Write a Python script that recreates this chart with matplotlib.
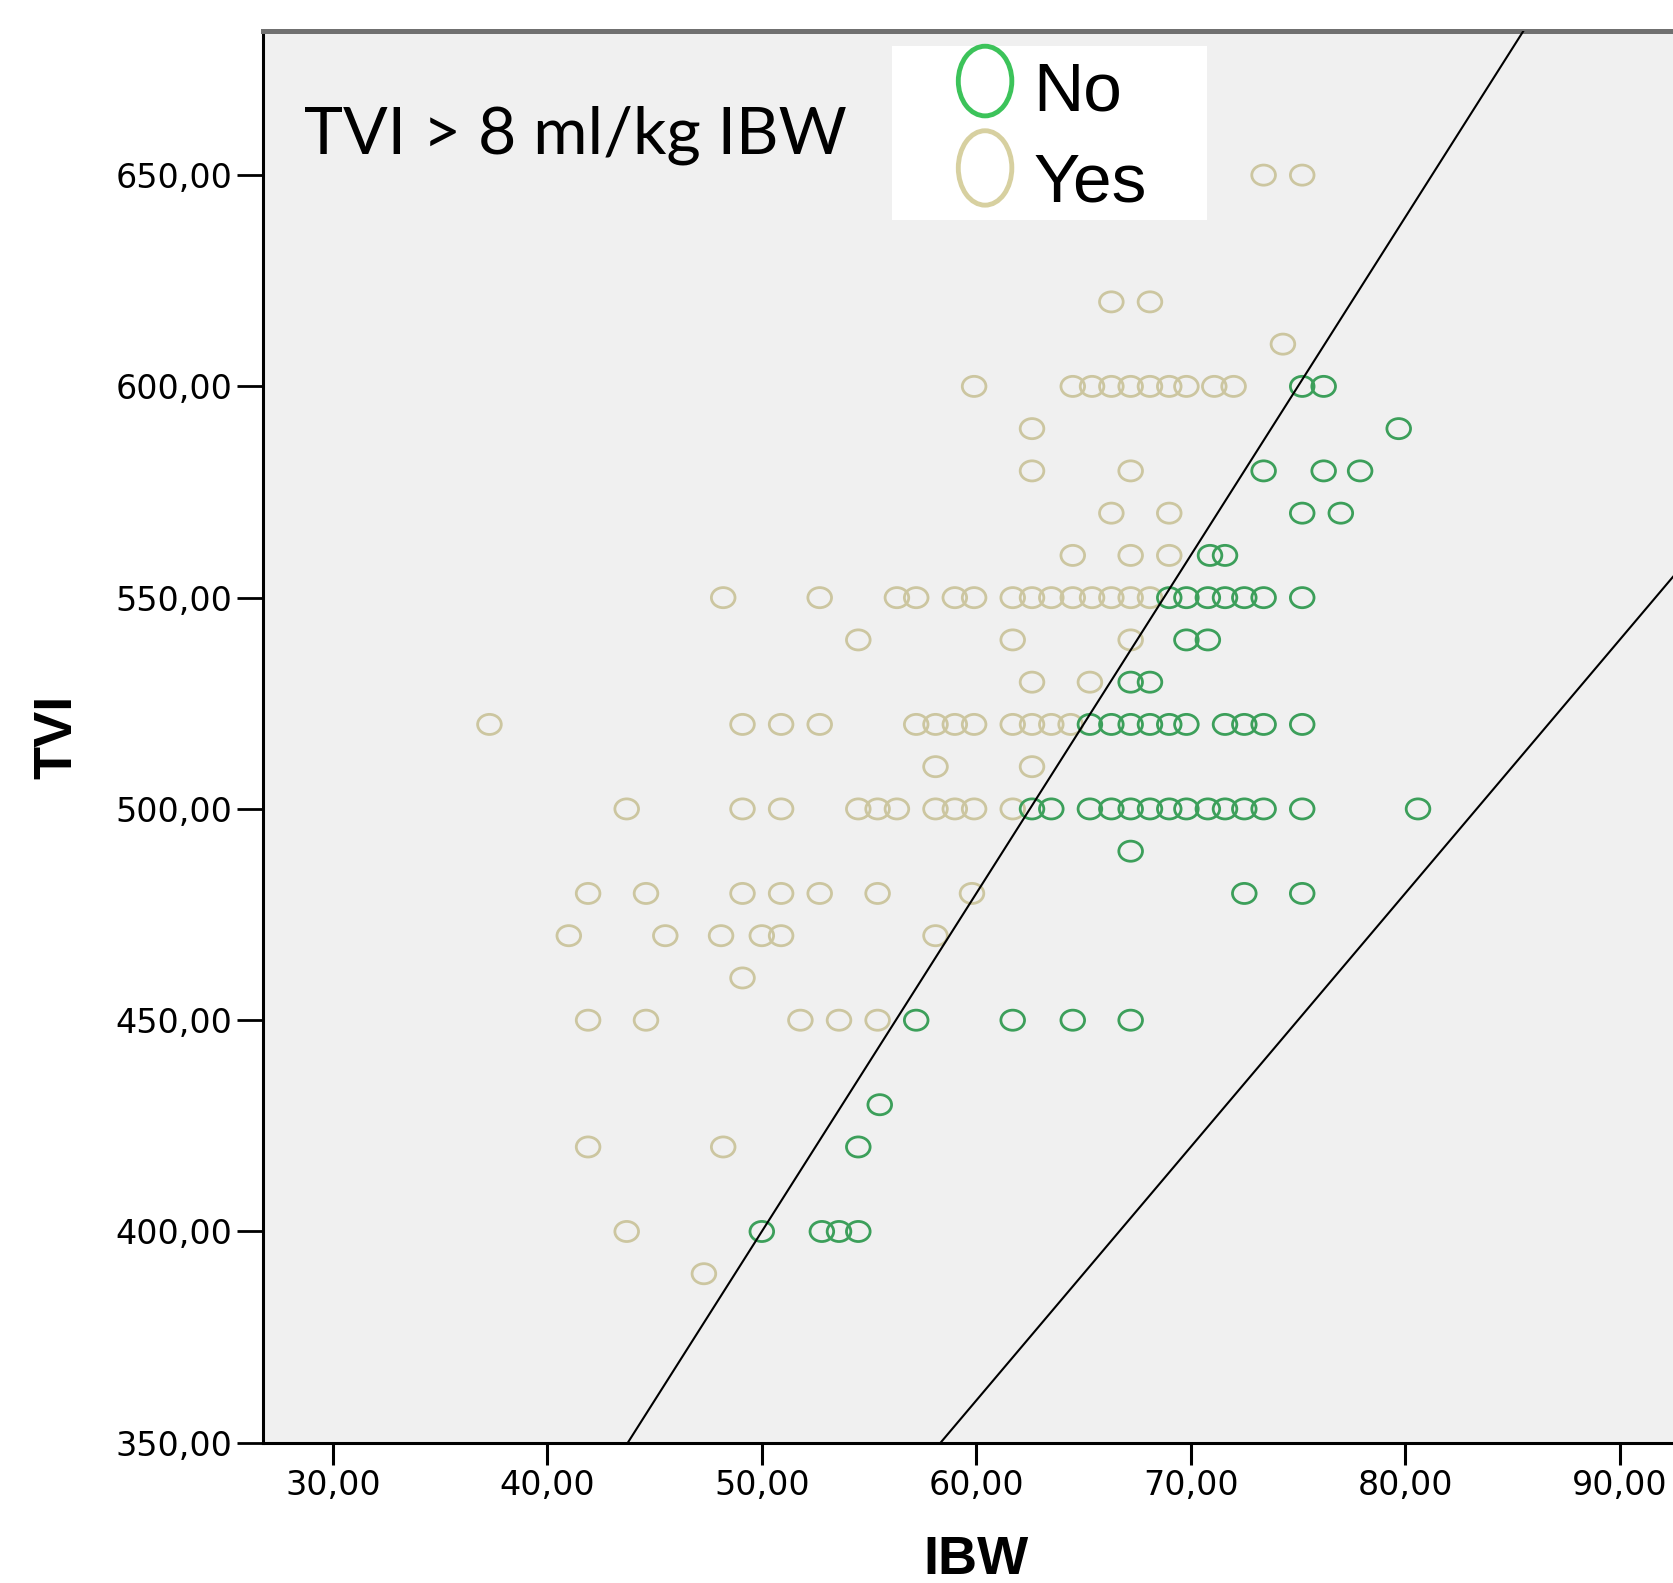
import numpy as np
import matplotlib
matplotlib.use('Agg')
import matplotlib.pyplot as plt
from matplotlib.path import Path
from matplotlib.patches import Ellipse, Rectangle
from matplotlib.ticker import FuncFormatter
from matplotlib import font_manager

# TVI levels and IBW values of the points on each level
yes_levels = [650, 620, 610, 600, 590, 580, 570, 560, 550, 540, 530, 520, 510, 500, 480, 470, 460, 450, 420, 400, 390]
yes_ibw = [
    [73.4, 75.2],
    [66.3, 68.1],
    [74.3],
    [59.9, 64.5, 65.4, 66.3, 67.2, 68.1, 69.0, 69.8, 71.1, 72.0],
    [62.6],
    [62.6, 67.2],
    [66.3, 69.0],
    [64.5, 67.2, 69.0],
    [48.2, 52.7, 56.3, 57.2, 59.0, 59.9, 61.7, 62.6, 63.5, 64.5, 65.4, 66.3, 67.2, 68.1],
    [54.5, 61.7, 67.2],
    [62.6, 65.3],
    [37.3, 49.1, 50.9, 52.7, 57.2, 58.1, 59.0, 59.9, 61.7, 62.6, 63.5, 64.4],
    [58.1, 62.6],
    [43.7, 49.1, 50.9, 54.5, 55.4, 56.3, 58.1, 59.0, 59.9, 61.7],
    [41.9, 44.6, 49.1, 50.9, 52.7, 55.4, 59.8],
    [41.0, 45.5, 48.1, 50.0, 50.9, 58.1],
    [49.1],
    [41.9, 44.6, 51.8, 53.6, 55.4],
    [41.9, 48.2],
    [43.7],
    [47.3],
]

no_levels = [600, 590, 580, 570, 560, 550, 540, 530, 520, 500, 490, 480, 450, 430, 420, 400]
no_ibw = [
    [75.2, 76.2],
    [79.7],
    [73.4, 76.2, 77.9],
    [75.2, 77.0],
    [70.9, 71.6],
    [69.0, 69.8, 70.8, 71.6, 72.5, 73.4, 75.2],
    [69.8, 70.8],
    [67.2, 68.1],
    [65.3, 66.3, 67.2, 68.1, 69.0, 69.8, 71.6, 72.5, 73.4, 75.2],
    [62.6, 63.5, 65.3, 66.3, 67.2, 68.1, 69.0, 69.8, 70.8, 71.6, 72.5, 73.4, 75.2, 80.6],
    [67.2],
    [72.5, 75.2],
    [57.2, 61.7, 64.5, 67.2],
    [55.5],
    [54.5],
    [50.0, 52.8, 53.6, 54.5],
]

# reference lines TVI = k * IBW (ml/kg)
line_slopes = [8, 6]

x_ticks = [30, 40, 50, 60, 70, 80, 90]
y_ticks = [350, 400, 450, 500, 550, 600, 650]

no_color = '#3c9f5a'
yes_color = '#ccc6a0'

names = {f.name for f in font_manager.fontManager.ttflist}
narrow = 'Liberation Sans Narrow' if 'Liberation Sans Narrow' in names else 'Liberation Sans'


def flat(levels, rows):
    xs, ys = [], []
    for lev, row in zip(levels, rows):
        for v in row:
            xs.append(v)
            ys.append(lev)
    return np.array(xs), np.array(ys)


yx, yy = flat(yes_levels, yes_ibw)
nx, ny = flat(no_levels, no_ibw)

circ = Path.unit_circle()
ell = Path(circ.vertices * np.array([1.0, 0.85]), circ.codes)

fig = plt.figure(figsize=(16.73, 15.83), dpi=100)
ax = fig.add_axes([0.1572, 0.0886, 0.8428, 0.8918])
ax.set_facecolor('#f0f0f0')

ax.scatter(yx, yy, s=290, marker=ell, facecolors='none', edgecolors=yes_color, linewidths=2.0, zorder=3)
ax.scatter(nx, ny, s=290, marker=ell, facecolors='none', edgecolors=no_color, linewidths=2.0, zorder=4)

xlim = (26.74, 92.49)
ylim = (350, 684.1)
xs = np.array(xlim)
for k in line_slopes:
    ax.plot(xs, k * xs, color='black', lw=1.5, zorder=5)

ax.set_xlim(xlim)
ax.set_ylim(ylim)
ax.set_xticks(x_ticks)
ax.set_yticks(y_ticks)
fmt = FuncFormatter(lambda v, p: ('%.2f' % v).replace('.', ','))
ax.xaxis.set_major_formatter(fmt)
ax.yaxis.set_major_formatter(fmt)
ax.tick_params(axis='y', length=19, width=2, pad=3, labelsize=24, direction='out')
ax.tick_params(axis='x', length=16, width=2.2, pad=3, labelsize=24, direction='out')

ax.spines['right'].set_visible(False)
ax.spines['top'].set_color('#707070')
ax.spines['top'].set_linewidth(3.6)
ax.spines['left'].set_linewidth(2.2)
ax.spines['bottom'].set_linewidth(2.2)

ax.set_xlabel('IBW', fontsize=39, fontweight='bold', family=narrow)
ax.xaxis.set_label_coords(0.506, -0.0655)
ax.set_ylabel('TVI', fontsize=39, fontweight='bold', family=narrow)
ax.yaxis.set_label_coords(-0.128, 0.5)

fig.text(0.182, 0.9033, 'TVI > 8 ml/kg IBW', fontsize=47.5, family='Lato',
         va='baseline', ha='left')

# legend box
fig.add_artist(Rectangle((0.5332, 0.8610), 0.1883, 0.1099, transform=fig.transFigure,
                         facecolor='white', edgecolor='none', zorder=6))
fig.add_artist(Ellipse((0.5888, 0.9488), 0.0320, 0.0440, transform=fig.transFigure,
                       facecolor='none', edgecolor='#3cc35a', lw=3.5, zorder=7))
fig.add_artist(Ellipse((0.5888, 0.8939), 0.0320, 0.0470, transform=fig.transFigure,
                       facecolor='none', edgecolor='#d7d0a0', lw=3.5, zorder=7))
fig.text(0.6175, 0.9305, 'No', fontsize=50, family=narrow, va='baseline', ha='left', zorder=8)
fig.text(0.6175, 0.8730, 'Yes', fontsize=50, family=narrow, va='baseline', ha='left', zorder=8)

fig.savefig('out.png', dpi=100, facecolor='white')
